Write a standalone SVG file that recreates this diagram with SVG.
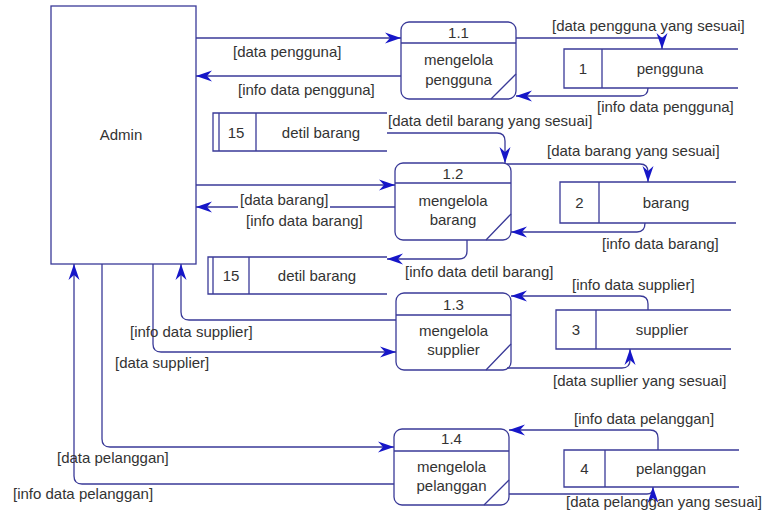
<svg xmlns="http://www.w3.org/2000/svg" width="766" height="515" viewBox="0 0 766 515">
  <style>
    text { font-family: "Liberation Sans", Arial, sans-serif; font-size: 15px; fill: #333333; }
    .c { text-anchor: middle; }
    .box { fill: #ffffff; stroke: #3a3a98; stroke-width: 1.3; }
    .ln { fill: none; stroke: #3a3a98; stroke-width: 1.3; }
    .flow { fill: none; stroke: #3a3a98; stroke-width: 1.3; marker-end: url(#arrow); }
  </style>
  <defs>
    <marker id="arrow" markerUnits="userSpaceOnUse" viewBox="0 0 16 12" refX="16" refY="6" markerWidth="16" markerHeight="12" orient="auto">
      <path d="M0,0.5 L16,6 L0,11.5 L5,6 Z" fill="#1616c8"/>
    </marker>
  </defs>
  <rect width="766" height="515" fill="#ffffff"/>

  <!-- external entity -->
  <g id="admin">
    <rect class="box" x="51" y="6" width="145" height="258"/>
    <text class="c" x="121" y="140">Admin</text>
  </g>

  <!-- processes -->
  <g id="p11">
    <rect class="box" x="401" y="22" width="115" height="77" rx="8"/>
    <path class="ln" d="M401,43 H516 M491,99 L516,74"/>
    <text class="c" x="458.5" y="37.5">1.1</text>
    <text class="c" x="458.5" y="65">mengelola</text>
    <text class="c" x="458.5" y="85">pengguna</text>
  </g>
  <g id="p12">
    <rect class="box" x="395" y="163" width="116" height="77" rx="8"/>
    <path class="ln" d="M395,183 H511 M486,240 L511,214"/>
    <text class="c" x="453" y="178.5">1.2</text>
    <text class="c" x="453" y="206">mengelola</text>
    <text class="c" x="453" y="225">barang</text>
  </g>
  <g id="p13">
    <rect class="box" x="396" y="293" width="115" height="77" rx="8"/>
    <path class="ln" d="M396,315 H511 M486,370 L511,344"/>
    <text class="c" x="453.5" y="309.5">1.3</text>
    <text class="c" x="453.5" y="336">mengelola</text>
    <text class="c" x="453.5" y="355">supplier</text>
  </g>
  <g id="p14">
    <rect class="box" x="394" y="429" width="115" height="76" rx="8"/>
    <path class="ln" d="M394,451 H509 M484,505 L509,480"/>
    <text class="c" x="451.5" y="443.5">1.4</text>
    <text class="c" x="451.5" y="472">mengelola</text>
    <text class="c" x="451.5" y="491">pelanggan</text>
  </g>

  <!-- data stores -->
  <g id="ds1">
    <path class="ln" d="M738,49 H564 V88 H738 M602,49 V88"/>
    <text class="c" x="583" y="73.5">1</text>
    <text class="c" x="670" y="73.5">pengguna</text>
  </g>
  <g id="ds2">
    <path class="ln" d="M736,182 H560 V223 H736 M599,182 V223"/>
    <text class="c" x="579.5" y="207.5">2</text>
    <text class="c" x="666" y="207.5">barang</text>
  </g>
  <g id="ds3">
    <path class="ln" d="M731,310 H556 V349 H731 M596,310 V349"/>
    <text class="c" x="576" y="334.5">3</text>
    <text class="c" x="662" y="334.5">supplier</text>
  </g>
  <g id="ds4">
    <path class="ln" d="M739,450 H564 V487 H739 M605,450 V487"/>
    <text class="c" x="584.5" y="473.5">4</text>
    <text class="c" x="671" y="473.5">pelanggan</text>
  </g>
  <g id="ds15a">
    <path class="ln" d="M387,113 H213 V151 H387 M219,113 V151 M256,113 V151"/>
    <text class="c" x="236" y="137.5">15</text>
    <text class="c" x="321" y="137.5">detil barang</text>
  </g>
  <g id="ds15b">
    <path class="ln" d="M387,257 H208 V294 H387 M213,257 V294 M249,257 V294"/>
    <text class="c" x="231" y="281">15</text>
    <text class="c" x="317" y="281">detil barang</text>
  </g>

  <!-- data flows -->
  <g id="flows">
    <path class="flow" d="M196,38 H401"/>
    <path class="flow" d="M401,76 H196"/>
    <path class="flow" d="M516,38 H662 V49"/>
    <path class="flow" d="M648,88 Q648,96 640,96 H516"/>
    <path class="flow" d="M387,133 H497 Q505,133 505,141 V163"/>
    <path class="flow" d="M507,164 H640 Q648,164 648,172 V182"/>
    <path class="flow" d="M645,223 Q645,232 637,232 H511"/>
    <path class="flow" d="M196,185 H395"/>
    <path class="flow" d="M395,207 H330 M238,207 H196"/>
    <path class="flow" d="M467,240 V251 Q467,259 459,259 H387"/>
    <path class="flow" d="M396,320 H189 Q181,320 181,312 V264"/>
    <path class="flow" d="M153,264 V344 Q153,352 161,352 H396"/>
    <path class="flow" d="M648,310 V304 Q648,296 640,296 H511"/>
    <path class="flow" d="M507,368 H622 Q630,368 630,360 V349"/>
    <path class="flow" d="M102,264 V439 Q102,447 110,447 H394"/>
    <path class="flow" d="M394,484 H82 Q74,484 74,476 V264"/>
    <path class="flow" d="M658,450 V438 Q658,430 650,430 H509"/>
    <path class="flow" d="M509,494 H647 Q653,494 653,488 V487"/>
  </g>

  <!-- flow labels -->
  <g id="labels">
    <text x="233" y="57">[data pengguna]</text>
    <text x="238" y="95">[info data pengguna]</text>
    <text x="552" y="31">[data pengguna yang sesuai]</text>
    <text x="597" y="112">[info data pengguna]</text>
    <text x="388" y="125.5">[data detil barang yang sesuai]</text>
    <text x="547" y="156">[data barang yang sesuai]</text>
    <text x="602" y="249">[info data barang]</text>
    <text x="240" y="205">[data barang]</text>
    <text x="246" y="225.5">[info data barang]</text>
    <text x="405" y="277">[info data detil barang]</text>
    <text x="572" y="290">[info data supplier]</text>
    <text x="553" y="386">[data supllier yang sesuai]</text>
    <text x="130" y="337">[info data supplier]</text>
    <text x="115" y="368">[data supplier]</text>
    <text x="57" y="463">[data pelanggan]</text>
    <text x="13" y="499">[info data pelanggan]</text>
    <text x="574" y="424">[info data pelanggan]</text>
    <text x="566" y="507">[data pelanggan yang sesuai]</text>
  </g>
</svg>
